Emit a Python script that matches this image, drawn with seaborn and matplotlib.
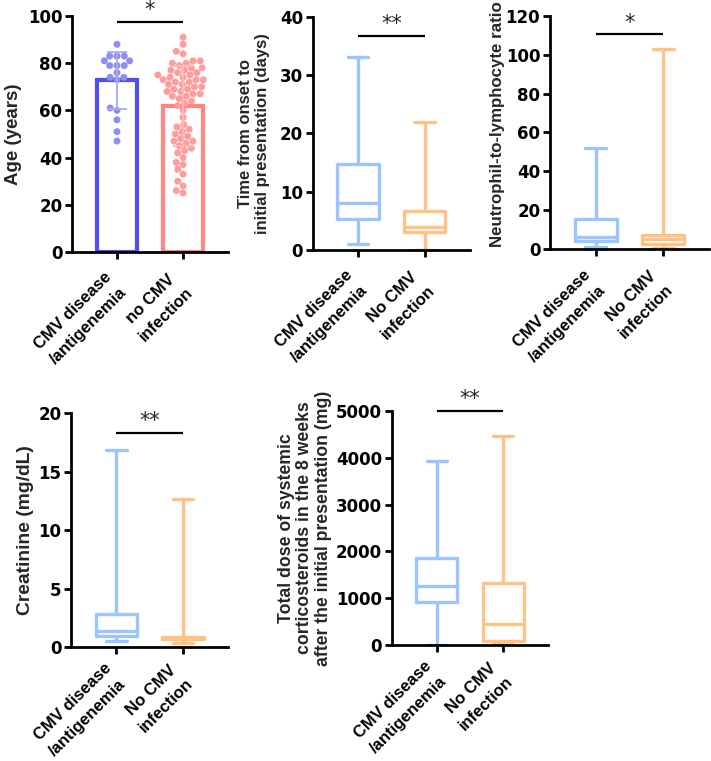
import numpy as np
import pandas as pd
import matplotlib
matplotlib.use("Agg")
import matplotlib.pyplot as plt
import seaborn as sns

sns.set_theme(style="ticks")
plt.rcParams["font.family"] = ["Liberation Sans", "DejaVu Sans"]
plt.rcParams["font.weight"] = "bold"
plt.rcParams["axes.labelweight"] = "bold"

# ---------------- data ----------------
groups_age = ["CMV disease\n/antigenemia", "no CMV\ninfection"]
groups = ["CMV disease\n/antigenemia", "No CMV\ninfection"]

age_cmv = [88, 83, 83, 83, 81, 81, 79, 79, 79, 76, 74, 74, 73, 61, 60, 56, 51, 47]
age_no_cmv = [91, 88, 85, 84, 81, 81, 80, 80, 79, 78, 78, 77, 77, 76, 76, 75, 75,
              74, 74, 73, 73, 73, 72, 72, 71, 71, 70, 70, 69, 69, 68, 68, 67, 67,
              66, 66, 65, 64, 63, 62, 60, 57, 54, 53, 52, 51, 50, 49, 48, 47, 47,
              46, 45, 44, 43, 42, 40, 38, 37, 35, 33, 30, 28, 26, 25]

# five-number summaries (min, Q1, median, Q3, max)
time_cmv = [1, 5.3, 8.0, 14.8, 33]
time_no_cmv = [0, 3.1, 3.9, 6.7, 22]
nlr_cmv = [1.3, 4.4, 6.5, 15.4, 52]
nlr_no_cmv = [0.5, 2.6, 5.1, 7.3, 103]
cre_cmv = [0.56, 0.97, 1.4, 2.85, 16.9]
cre_no_cmv = [0.34, 0.70, 0.77, 0.90, 12.7]
ster_cmv = [0, 926, 1268, 1852, 3932]
ster_no_cmv = [20, 92, 449, 1318, 4466]

sig_labels = ["*", "**", "*", "**", "**"]
sig_heights = [97.6, 36.7, 110.4, 18.3, 5000]

# ---------------- style ----------------
bar_edge = ["#4F4FF3", "#FF8484"]
dot_col = ["#8D8DF2", "#FF9C9C"]
err_col = ["#A9A9F4", "#FFB8B8"]
box_col = ["#9CC4FF", "#FFC285"]

fig = plt.figure(figsize=(7.11, 7.61), dpi=100)

rects = [
    (0.1013, 0.6689, 0.2194, 0.3101),
    (0.4398, 0.6715, 0.2212, 0.3066),
    (0.7736, 0.6724, 0.2236, 0.3070),
    (0.0999, 0.1494, 0.2212, 0.3075),
    (0.5509, 0.1524, 0.2203, 0.3075),
]
axes = [fig.add_axes(r) for r in rects]


def style_axis(ax, ymax, step, ylabel, xlabels, lab_x, lab_y, lsize, lsp=1.0,
               xpad=17):
    ax.set_ylim(0, ymax)
    ax.set_yticks(np.arange(0, ymax + step / 2, step))
    ax.set_xlim(-0.68, 1.68)
    ax.set_xticks([0, 1])
    ax.set_xticklabels(xlabels, rotation=45, ha="right", va="center",
                       rotation_mode="anchor", multialignment="center",
                       fontsize=12, fontweight="bold", linespacing=1.55)
    for t in ax.get_yticklabels():
        t.set_fontsize(12)
        t.set_fontweight("bold")
        t.set_fontfamily(["DejaVu Sans"])
    ax.tick_params(axis="y", length=5, width=2, pad=2, colors="black")
    ax.tick_params(axis="x", length=5, width=2, pad=xpad, colors="black")
    for s in ["top", "right"]:
        ax.spines[s].set_visible(False)
    for s in ["left", "bottom"]:
        ax.spines[s].set_linewidth(2)
        ax.spines[s].set_color("black")
    ax.set_xlabel("")
    ax.set_ylabel(ylabel, fontsize=lsize, fontweight="bold", linespacing=lsp)
    ax.yaxis.set_label_coords(lab_x, lab_y)
    ax.yaxis.label.set_verticalalignment("center")
    ax.set_facecolor("none")


def sig(ax, y, label):
    ax.plot([0, 1], [y, y], color="black", lw=1.6, clip_on=False,
            solid_capstyle="butt")
    ax.annotate(label, xy=(0.5, y), xytext=(0, 8.5), textcoords="offset points",
                ha="center", va="center", fontsize=15, fontweight="normal",
                family=["DejaVu Sans"], annotation_clip=False)


# ---------------- panel 1: bar + dots ----------------
ax = axes[0]
df_age = pd.DataFrame({
    "group": [groups_age[0]] * len(age_cmv) + [groups_age[1]] * len(age_no_cmv),
    "age": age_cmv + age_no_cmv,
})
sns.barplot(data=df_age, x="group", y="age", hue="group", order=groups_age,
            hue_order=groups_age, palette=bar_edge, fill=False, errorbar=None,
            width=0.6, linewidth=3, legend=False, ax=ax)
sns.swarmplot(data=df_age, x="group", y="age", hue="group", order=groups_age,
              hue_order=groups_age, palette=dot_col, size=5.0, legend=False,
              ax=ax, zorder=3, warn_thresh=1)
for i, vals in enumerate([age_cmv, age_no_cmv]):
    v = np.asarray(vals, float)
    ax.errorbar(i, v.mean(), yerr=v.std(ddof=1), color=err_col[i], capsize=7,
                elinewidth=1.3, capthick=1.3, zorder=4)
style_axis(ax, 100, 20, "Age (years)", groups_age, -0.375, 0.5, 13.5)
sig(ax, sig_heights[0], sig_labels[0])

# ---------------- box panels ----------------
box_sets = [
    (axes[1], time_cmv, time_no_cmv, 40, 10,
     "Time from onset to\ninitial presentation (days)", -0.373, 0.5, 12, 1.1, 17),
    (axes[2], nlr_cmv, nlr_no_cmv, 120, 20,
     "Neutrophil-to-lymphocyte ratio", -0.333, 0.536, 12.2, 1.0, 17),
    (axes[3], cre_cmv, cre_no_cmv, 20, 5,
     "Creatinine (mg/dL)", -0.292, 0.5, 13.9, 1.0, 14),
    (axes[4], ster_cmv, ster_no_cmv, 5000, 1000,
     "Total dose of systemic\ncorticosteroids in the 8 weeks\nafter the initial presentation (mg)",
     -0.554, 0.5, 12.7, 1.12, 14),
]
for k, (ax, a, b, ymax, step, lab, lx, ly, ls, lsp, xp) in enumerate(box_sets):
    df = pd.DataFrame({"group": [groups[0]] * len(a) + [groups[1]] * len(b),
                       "value": a + b})
    sns.boxplot(data=df, x="group", y="value", hue="group", order=groups,
                hue_order=groups, palette=box_col, fill=False, whis=(0, 100),
                width=0.62, linewidth=2.4, legend=False, ax=ax)
    style_axis(ax, ymax, step, lab, groups, lx, ly, ls, lsp, xpad=xp)
    sig(ax, sig_heights[k + 1], sig_labels[k + 1])

fig.savefig("out.png", dpi=100, facecolor="white")
